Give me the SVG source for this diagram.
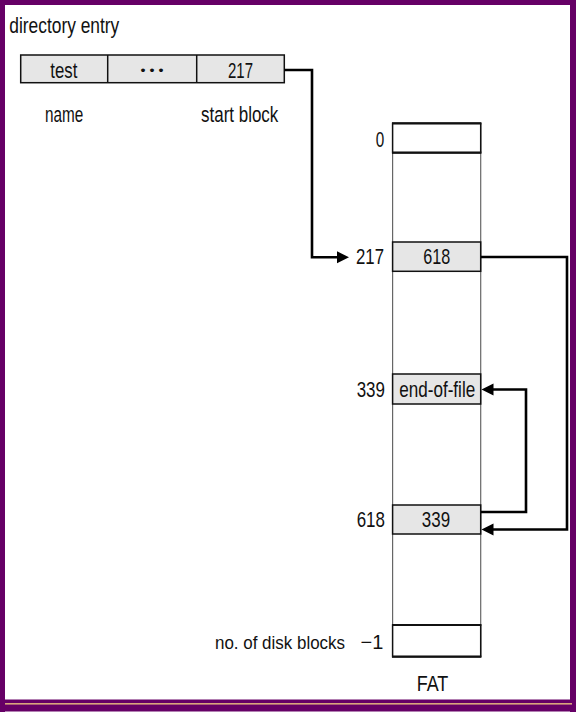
<svg xmlns="http://www.w3.org/2000/svg" width="576" height="716" viewBox="0 0 576 716">
<style>
text{font-family:"Liberation Sans",Arial,sans-serif;font-size:22px;fill:#111}
.cell{fill:#e6e6e6;stroke:#111;stroke-width:1.5}
.empty{fill:#fff;stroke:#111;stroke-width:1.5}
.hl{stroke:#111;stroke-width:2.2}
.col{stroke:#666;stroke-width:1.2;fill:none}
.conn{fill:none;stroke:#000;stroke-width:2.6}
.mid{text-anchor:middle}
.end{text-anchor:end}
</style>
<defs>
<marker id="arr" markerUnits="userSpaceOnUse" markerWidth="13" markerHeight="13" refX="4" refY="6" orient="auto">
<path d="M0,0 L12,6 L0,12 z" fill="#000"/>
</marker>
</defs>
<rect width="576" height="716" fill="#fff"/>
<g id="frame">
<rect x="0" y="0" width="576" height="5" fill="#660066"/>
<rect x="0" y="0" width="5" height="712" fill="#660066"/>
<rect x="570" y="0" width="6" height="712" fill="#660066"/>
<rect x="0" y="699.5" width="576" height="12" fill="#660066"/>
<rect x="5" y="703" width="567" height="1.6" fill="#d9a57c"/>
</g>
<g id="dir-entry">
<text x="9.3" y="33" textLength="110" lengthAdjust="spacingAndGlyphs">directory entry</text>
<rect class="cell" x="20.7" y="55" width="263.6" height="27.7"/>
<line x1="107.7" y1="55" x2="107.7" y2="82.7" stroke="#111" stroke-width="1.5"/>
<line x1="196.7" y1="55" x2="196.7" y2="82.7" stroke="#111" stroke-width="1.5"/>
<text x="63.8" y="77.5" class="mid" textLength="27" lengthAdjust="spacingAndGlyphs">test</text>
<text x="152" y="75" class="mid" style="font-size:12px" textLength="23" lengthAdjust="spacingAndGlyphs">• • •</text>
<text x="240.5" y="77.5" class="mid" textLength="25" lengthAdjust="spacingAndGlyphs">217</text>
<text x="45" y="121.7" textLength="38.3" lengthAdjust="spacingAndGlyphs">name</text>
<text x="201" y="121.7" textLength="77.3" lengthAdjust="spacingAndGlyphs">start block</text>
</g>
<g id="fat">
<line class="col" x1="392.6" y1="123" x2="392.6" y2="657"/>
<line class="col" x1="480.7" y1="123" x2="480.7" y2="657"/>
<g id="row-0">
<rect class="empty" x="392.6" y="123.3" width="88.1" height="29.4"/>
<line class="hl" x1="392" y1="123.3" x2="481.3" y2="123.3"/>
<line class="hl" x1="392" y1="152.7" x2="481.3" y2="152.7"/>
<text x="384.3" y="147.3" class="end" textLength="8.5" lengthAdjust="spacingAndGlyphs">0</text>
</g>
<g id="row-217">
<rect class="cell" x="392.6" y="242" width="88.1" height="29.3"/>
<text x="384" y="264" class="end" textLength="28" lengthAdjust="spacingAndGlyphs">217</text>
<text x="436.7" y="264" class="mid" textLength="27" lengthAdjust="spacingAndGlyphs">618</text>
</g>
<g id="row-339">
<rect class="cell" x="392.6" y="374" width="88.1" height="30"/>
<text x="385" y="397.3" class="end" textLength="28.3" lengthAdjust="spacingAndGlyphs">339</text>
<text x="437.2" y="397.3" class="mid" textLength="76" lengthAdjust="spacingAndGlyphs">end-of-file</text>
</g>
<g id="row-618">
<rect class="cell" x="392.6" y="505" width="88.1" height="29"/>
<text x="385" y="526.7" class="end" textLength="28.3" lengthAdjust="spacingAndGlyphs">618</text>
<text x="436" y="526.7" class="mid" textLength="28.3" lengthAdjust="spacingAndGlyphs">339</text>
</g>
<g id="row-last">
<rect class="empty" x="392.6" y="625" width="88.1" height="31.7"/>
<line class="hl" x1="392" y1="625" x2="481.3" y2="625"/>
<line class="hl" x1="392" y1="656.7" x2="481.3" y2="656.7"/>
<text x="215" y="649.3" style="font-size:18px" textLength="130" lengthAdjust="spacingAndGlyphs">no. of disk blocks</text>
<text x="383.3" y="649.3" class="end" style="font-size:20px">−1</text>
</g>
<text x="432.5" y="690.7" class="mid" textLength="31.6" lengthAdjust="spacingAndGlyphs">FAT</text>
</g>
<g id="connectors">
<path class="conn" d="M284.3,70 H312 V257.3 H341" marker-end="url(#arr)"/>
<path class="conn" d="M481,257 H567 V529.5 H489.5" marker-end="url(#arr)"/>
<path class="conn" d="M481,512 H526 V389.5 H489.5" marker-end="url(#arr)"/>
</g>
</svg>
